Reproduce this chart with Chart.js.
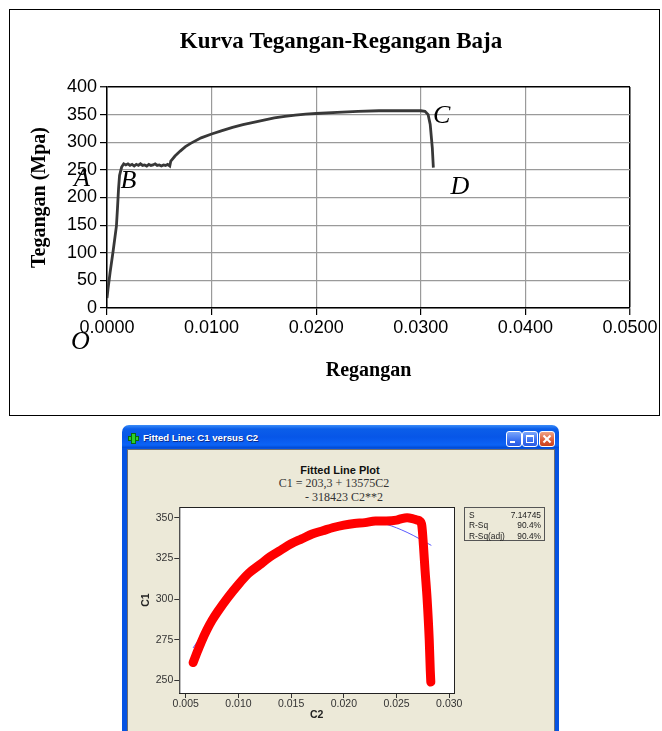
<!DOCTYPE html>
<html>
<head>
<meta charset="utf-8">
<script src="https://cdn.jsdelivr.net/npm/chart.js@4.4.0/dist/chart.umd.min.js"></script>
<style>
  body { margin: 0; background: #fff; width: 662px; height: 731px; overflow: hidden; position: relative; font-family: "Liberation Sans", Arial, sans-serif; }
  .frame { position: absolute; left: 9px; top: 9px; width: 651px; height: 407px; border: 1.5px solid #000; box-sizing: border-box; }
  #topChart { position: absolute; left: 0; top: 0; }
  .win { position: absolute; left: 122px; top: 425px; width: 437px; height: 320px; border-radius: 7px 7px 0 0;
    background: linear-gradient(to bottom, #3a8cf8 0px, #0b5ee9 4px, #0756e8 12px, #0c63f6 20px, #0049d2 23px, #0553e2 23px, #0553e2 100%); }
  .client { position: absolute; left: 5px; top: 24px; right: 4px; bottom: 0; background: #ece9d8; border: 1px solid #6f6f6f; border-bottom: none; }
  .wtitle { position: absolute; left: 21px; top: 7px; color: #fff; font: bold 9.6px "Liberation Sans", sans-serif; line-height: 12px; white-space: nowrap; text-shadow: 1px 1px 0 #0a2a8a; }
  .plus-h, .plus-v { position: absolute; background: #2bd12b; border: 1px solid #0b6a0b; box-sizing: border-box; }
  .plus-h { left: 6px; top: 11px; width: 11px; height: 5px; }
  .plus-v { left: 9px; top: 8px; width: 5px; height: 11px; }
  .btn { position: absolute; top: 6px; width: 16px; height: 16px; border: 1px solid #fff; border-radius: 3px; box-sizing: border-box;
    background: linear-gradient(to bottom, #7aa6fb, #3a6ff0 60%, #2a5ae2); }
  .btn.close { background: linear-gradient(to bottom, #f0a487, #dd5b35 60%, #c9401d); }
  .bmin { position: absolute; left: 3px; top: 9px; width: 5px; height: 2px; background: #fff; }
  .bmax { position: absolute; left: 3px; top: 3px; width: 8px; height: 8px; border: 1px solid #fff; border-top-width: 2px; box-sizing: border-box; }
  .bx1, .bx2 { position: absolute; left: 2px; top: 6px; width: 10px; height: 2px; background: #fff; }
  .bx1 { transform: rotate(45deg); } .bx2 { transform: rotate(-45deg); }
  .mt { position: absolute; white-space: nowrap; text-align: center; color: #333; }
  #fitChart { position: absolute; left: 127px; top: 449px; }
  .stats { position: absolute; left: 464px; top: 507px; width: 81px; height: 34px; border: 1px solid #555; box-sizing: border-box;
    font: 8.4px "Liberation Sans", sans-serif; color: #222; padding: 2px 3px 0 4px; line-height: 10.3px; }
  .stats div { display: flex; justify-content: space-between; }
</style>
</head>
<body>
<div class="frame"></div>
<canvas id="topChart" width="662" height="420"></canvas>

<div class="win">
  <div class="plus-h"></div><div class="plus-v"></div>
  <div class="wtitle">Fitted Line: C1 versus C2</div>
  <div class="btn" style="left:384px"><div class="bmin"></div></div>
  <div class="btn" style="left:400px"><div class="bmax"></div></div>
  <div class="btn close" style="left:417px"><div class="bx1"></div><div class="bx2"></div></div>
  <div class="client"></div>
</div>
<div class="mt" style="left:240px;width:200px;top:463px;font:bold 11px 'Liberation Sans',sans-serif;line-height:14px;color:#111">Fitted Line Plot</div>
<div class="mt" style="left:234px;width:200px;top:476px;font:12px 'Liberation Serif',serif;line-height:14px">C1 = 203,3 + 13575C2</div>
<div class="mt" style="left:244px;width:200px;top:490px;font:12px 'Liberation Serif',serif;line-height:14px">- 318423 C2**2</div>
<canvas id="fitChart" width="428" height="282"></canvas>
<div class="stats">
  <div><span>S</span><span>7.14745</span></div>
  <div><span>R-Sq</span><span>90.4%</span></div>
  <div><span>R-Sq(adj)</span><span>90.4%</span></div>
</div>

<script>
// --- stress-strain curve (top chart) ---
const strain = [0, 0.0001, 0.0003, 0.0006, 0.0009, 0.0010, 0.0011, 0.0012, 0.0014, 0.0016,
  0.0018, 0.0020, 0.0022, 0.0024, 0.0026, 0.0028, 0.0030, 0.0032, 0.0034, 0.0036, 0.0038,
  0.0040, 0.0042, 0.0044, 0.0046, 0.0048, 0.0050, 0.0052, 0.0054, 0.0056, 0.0058, 0.0060,
  0.0061, 0.0065, 0.0070, 0.0075, 0.0080, 0.0090, 0.0100, 0.0110, 0.0120, 0.0130, 0.0140,
  0.0150, 0.0160, 0.0170, 0.0180, 0.0190, 0.0200, 0.0220, 0.0240, 0.0260, 0.0280, 0.0300,
  0.0304, 0.0307, 0.0309, 0.0311, 0.0312];
const stress = [18, 35, 65, 105, 148, 180, 215, 240, 255, 261,
  259, 261, 258, 260, 257, 260, 258, 261, 258, 259, 257,
  260, 258, 259, 261, 258, 259, 257, 259, 258, 260, 257,
  266, 275, 284, 292, 298, 308, 315, 321, 327, 332, 336,
  340, 344, 347, 349, 351, 352, 354, 356, 357, 357, 357,
  356, 350, 332, 290, 254];
const xTicks = [0, 0.01, 0.02, 0.03, 0.04, 0.05];
const yTicks = [0, 50, 100, 150, 200, 250, 300, 350, 400];
// point letters and where they sit (data units)
const letterText = ['O', 'A', 'B', 'C', 'D'];
const letterX = [-0.00255, -0.0024, 0.00206, 0.0320, 0.03374];
const letterY = [-62, 234, 230, 347, 218];

// --- Minitab fitted line plot ---
const c2Data = [0.0057, 0.0060, 0.0065, 0.0070, 0.0075, 0.0080, 0.0090, 0.0100, 0.0110, 0.0120,
  0.0130, 0.0140, 0.0150, 0.0160, 0.0170, 0.0180, 0.0190, 0.0200, 0.0210, 0.0220, 0.0230,
  0.0240, 0.0250, 0.0255, 0.0260, 0.0265, 0.0270, 0.0272, 0.0274, 0.02755, 0.0277, 0.0279,
  0.0281, 0.0282, 0.02825];
const c1Data = [261, 266, 274, 281, 287, 292, 301, 309, 316, 321,
  326, 330, 334, 337, 340, 342, 344, 345.5, 346.5, 347, 348,
  348, 348.5, 349.5, 350, 349.5, 348.5, 348, 345, 333, 318, 300,
  275, 256, 249];
const fitX = [0.0057, 0.0075, 0.010, 0.0125, 0.015, 0.0175, 0.020, 0.022, 0.024, 0.026, 0.0283];
const fitY = [270, 287, 307, 323, 335, 343, 347, 348, 346, 341, 333];
const c2Ticks = [0.005, 0.010, 0.015, 0.020, 0.025, 0.030];
const c1Ticks = [250, 275, 300, 325, 350];

const letterPlugin = {
  id: 'letters',
  afterDraw(chart) {
    const { ctx, scales } = chart;
    ctx.save();
    ctx.fillStyle = '#000';
    ctx.font = 'italic 26px "Liberation Serif"';
    ctx.textAlign = 'center';
    ctx.textBaseline = 'middle';
    letterText.forEach((t, i) => {
      ctx.fillText(t, scales.x.getPixelForValue(letterX[i]), scales.y.getPixelForValue(letterY[i]));
    });
    // chart title
    ctx.font = 'bold 23px "Liberation Serif"';
    ctx.fillText('Kurva Tegangan-Regangan Baja', 341, 42);
    ctx.restore();
  }
};

new Chart(document.getElementById('topChart'), {
  type: 'scatter',
  data: {
    datasets: [{
      data: strain.map((x, i) => ({ x: x, y: stress[i] })),
      showLine: true,
      borderColor: '#383838',
      borderWidth: 2.8,
      pointRadius: 0,
      tension: 0
    }]
  },
  options: {
    responsive: false,
    animation: false,
    devicePixelRatio: 1,
    layout: { padding: { left: 0, right: 32, top: 87, bottom: 0 } },
    plugins: { legend: { display: false }, tooltip: { enabled: false } },
    scales: {
      x: {
        type: 'linear', min: 0, max: 0.05,
        afterBuildTicks: (a) => { a.ticks = xTicks.map(v => ({ value: v })); },
        afterFit: (a) => { a.height = 112; },
        ticks: { callback: (v) => v.toFixed(4), color: '#000', font: { family: '"Liberation Sans"', size: 18 }, padding: 2, maxRotation: 0, autoSkip: false },
        grid: { color: (c) => (c.tick && c.tick.value === 0.05 ? '#000' : '#9a9a9a'), lineWidth: (c) => (c.tick && c.tick.value === 0.05 ? 1.5 : 1.2), tickLength: 7, tickColor: '#000', tickWidth: 1.2 },
        border: { color: '#000', width: 1.5 },
        title: { display: true, text: 'Regangan', color: '#000', font: { family: '"Liberation Serif"', size: 20, weight: 'bold' }, padding: { top: 0, bottom: 37 } }
      },
      y: {
        min: 0, max: 400,
        afterBuildTicks: (a) => { a.ticks = yTicks.map(v => ({ value: v })); },
        afterFit: (a) => { a.width = 107; },
        ticks: { color: '#000', font: { family: '"Liberation Sans"', size: 18 }, padding: 3 },
        grid: { color: (c) => (c.tick && c.tick.value === 400 ? '#000' : '#9a9a9a'), lineWidth: (c) => (c.tick && c.tick.value === 400 ? 1.5 : 1.2), tickLength: 7, tickColor: '#000', tickWidth: 1.2 },
        border: { color: '#000', width: 1.5 },
        title: { display: true, text: 'Tegangan (Mpa)', color: '#000', font: { family: '"Liberation Serif"', size: 20, weight: 'bold' }, padding: { top: 28, bottom: 0 } }
      }
    }
  },
  plugins: [letterPlugin]
});

const plotBox = {
  id: 'plotBox',
  beforeDatasetsDraw(chart) {
    const { ctx, chartArea: a } = chart;
    ctx.save();
    ctx.fillStyle = '#fff';
    ctx.fillRect(a.left, a.top, a.right - a.left, a.bottom - a.top);
    ctx.restore();
  },
  afterDraw(chart) {
    const { ctx, chartArea: a } = chart;
    ctx.save();
    ctx.strokeStyle = '#222';
    ctx.lineWidth = 1;
    ctx.strokeRect(a.left + 0.5, a.top + 0.5, a.right - a.left, a.bottom - a.top);
    ctx.restore();
  }
};

new Chart(document.getElementById('fitChart'), {
  type: 'scatter',
  data: {
    datasets: [{
      data: c2Data.map((x, i) => ({ x: x, y: c1Data[i] })),
      showLine: true,
      borderColor: '#ff0000',
      borderWidth: 9,
      borderCapStyle: 'round',
      borderJoinStyle: 'round',
      pointRadius: 0,
      cubicInterpolationMode: 'monotone'
    }, {
      data: fitX.map((x, i) => ({ x: x, y: fitY[i] })),
      showLine: true,
      borderColor: '#5a5aff',
      borderWidth: 1,
      pointRadius: 0,
      cubicInterpolationMode: 'monotone'
    }]
  },
  options: {
    responsive: false,
    animation: false,
    devicePixelRatio: 1,
    layout: { padding: { left: 0, right: 101, top: 58, bottom: 0 } },
    plugins: { legend: { display: false }, tooltip: { enabled: false } },
    scales: {
      x: {
        type: 'linear', min: 0.00439, max: 0.03045,
        afterBuildTicks: (a) => { a.ticks = c2Ticks.map(v => ({ value: v })); },
        afterFit: (a) => { a.height = 38; },
        ticks: { callback: (v) => v.toFixed(3), color: '#333', font: { family: '"Liberation Sans"', size: 10.5 }, padding: 0, maxRotation: 0, autoSkip: false },
        grid: { drawOnChartArea: false, tickLength: 5, tickColor: '#333' },
        border: { color: '#222', width: 1 },
        title: { display: true, text: 'C2', color: '#222', font: { family: '"Liberation Sans"', size: 10.5, weight: 'bold' }, padding: { top: 0, bottom: 10 } }
      },
      y: {
        min: 242.3, max: 356.6,
        afterBuildTicks: (a) => { a.ticks = c1Ticks.map(v => ({ value: v })); },
        afterFit: (a) => { a.width = 52.3; },
        ticks: { color: '#333', font: { family: '"Liberation Sans"', size: 10.5 }, padding: 1 },
        grid: { drawOnChartArea: false, tickLength: 5, tickColor: '#333' },
        border: { color: '#222', width: 1 },
        title: { display: true, text: 'C1', color: '#222', font: { family: '"Liberation Sans"', size: 10.5, weight: 'bold' }, padding: { top: 13, bottom: 0 } }
      }
    }
  },
  plugins: [plotBox]
});
</script>
</body>
</html>
